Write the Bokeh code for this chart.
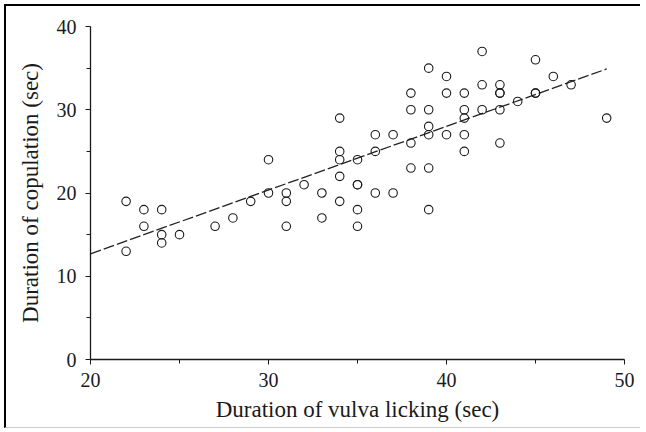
from bokeh.plotting import figure
from bokeh.models import Range1d, FixedTicker
from bokeh.embed import file_html
from bokeh.resources import INLINE

# Duration of vulva licking (sec)
licking = [22, 22,
           23, 23,
           24, 24, 24,
           25, 27, 28, 29,
           30, 30,
           31, 31, 31,
           32,
           33, 33,
           34, 34, 34, 34, 34,
           35, 35, 35, 35, 35,
           36, 36, 36,
           37, 37,
           38, 38, 38, 38,
           39, 39, 39, 39, 39, 39,
           40, 40, 40,
           41, 41, 41, 41, 41,
           42, 42, 42,
           43, 43, 43, 43, 43,
           44,
           45, 45, 45,
           46, 47, 49]
# Duration of copulation (sec)
copulation = [19, 13,
              18, 16,
              18, 15, 14,
              15, 16, 17, 19,
              24, 20,
              20, 19, 16,
              21,
              20, 17,
              29, 25, 24, 22, 19,
              24, 21, 21, 18, 16,
              27, 25, 20,
              27, 20,
              32, 30, 26, 23,
              35, 30, 28, 27, 23, 18,
              34, 32, 27,
              32, 30, 29, 27, 25,
              37, 33, 30,
              33, 32, 32, 30, 26,
              31,
              36, 32, 32,
              34, 33, 29]

# regression line
fit_x = [20, 49]
fit_y = [12.7, 34.9]

x_ticks = [20, 30, 40, 50]
y_ticks = [0, 10, 20, 30, 40]

FONT = "Liberation Serif"
INK = "#1a1a1a"

p = figure(width=636, height=424, output_backend="svg", toolbar_location=None,
           x_range=Range1d(20, 50), y_range=Range1d(0, 40),
           min_border_left=84, min_border_right=18, min_border_top=20,
           min_border_bottom=71)
p.styles = {"border-left": "2px solid black", "border-top": "2px solid black",
            "border-bottom": "1px solid #cccccc",
            "margin-left": "4px", "margin-top": "4px"}

p.grid.visible = False
p.outline_line_color = None
p.background_fill_color = "white"
p.border_fill_color = "white"

p.line(fit_x, fit_y, line_color="#222222", line_width=1.3, line_dash="11 3")
p.scatter(licking, copulation, marker="circle", size=8.5, fill_color=None,
          line_color=INK, line_width=1.1)

p.xaxis.ticker = FixedTicker(ticks=x_ticks, minor_ticks=[25, 35, 45])
p.yaxis.ticker = FixedTicker(ticks=y_ticks, minor_ticks=[5, 15, 25, 35])
p.xaxis.axis_label = "Duration of vulva licking (sec)"
p.yaxis.axis_label = "Duration of copulation (sec)"

for ax in (p.xaxis, p.yaxis):
    ax.axis_line_color = INK
    ax.axis_line_width = 1.3
    ax.major_tick_line_color = INK
    ax.minor_tick_line_color = INK
    ax.major_tick_out = 5
    ax.major_tick_in = 0
    ax.minor_tick_out = 4
    ax.minor_tick_in = 0
    ax.major_label_text_font = FONT
    ax.major_label_text_font_size = "20px"
    ax.major_label_text_color = INK
    ax.axis_label_text_font = FONT
    ax.axis_label_text_font_size = "23px"
    ax.axis_label_text_font_style = "normal"
    ax.axis_label_text_color = INK

p.xaxis.major_label_standoff = 8
p.xaxis.axis_label_standoff = 7
p.yaxis.major_label_standoff = 9
p.yaxis.axis_label_standoff = 11

open("out.html", "w").write(file_html(p, INLINE))
